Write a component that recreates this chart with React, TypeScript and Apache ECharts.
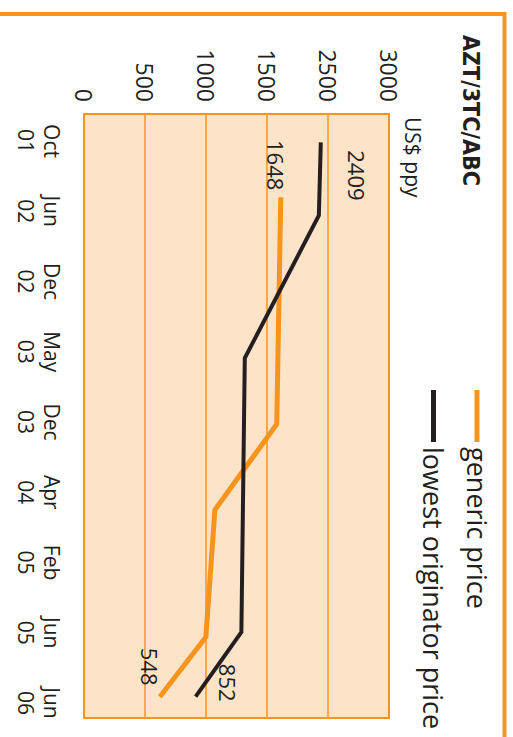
import React, { useEffect, useRef } from "react";
import * as echarts from "echarts";

// Category (time) labels along the horizontal axis of the unrotated chart
const categories = ["Oct\n01", "Jun\n02", "Dec\n02", "May\n03", "Dec\n03", "Apr\n04", "Feb\n05", "Jun\n05", "Jun\n06"];
// Value-axis tick labels as printed in the source
const tickLabels = ["0", "500", "1000", "1500", "2500", "3000"];

// Generic price: positions along the time axis (category index units) and values
const genericPos = [0.8, 4.03, 5.25, 7.06, 7.91];
const genericPrice = [1613, 1580, 1073, 999, 622];
const genericLabels = ["1648", "", "", "", "548"];

// Lowest originator price
const originatorPos = [0.02, 1.06, 3.09, 6.99, 7.91];
const originatorPrice = [1941, 1925, 1318, 1290, 915];
const originatorLabels = ["2409", "", "", "", "852"];

const ORANGE = "#F7941D";
const BLACK = "#231F20";
const PEACH = "#FDE3C8";
const FONT = "Open Sans";

const genericOffsets: Record<number, [number, number]> = { 0: [-32, 5], 4: [-30, 10] };
const originatorOffsets: Record<number, [number, number]> = { 0: [33, -36], 4: [-14, -32] };

function buildData(pos: number[], vals: number[], labels: string[], offsets: Record<number, [number, number]>) {
  return pos.map((p, i) => {
    const item: any = { value: [p, vals[i]] };
    if (labels[i]) {
      item.label = {
        show: true,
        formatter: labels[i],
        position: "inside",
        align: "center",
        verticalAlign: "middle",
        offset: offsets[i],
        color: BLACK,
        fontFamily: FONT,
        fontSize: 22,
      };
    }
    return item;
  });
}

export default function App() {
  const ref = useRef<HTMLDivElement>(null);
  useEffect(() => {
    if (!ref.current) return;
    const chart = echarts.init(ref.current, undefined, { renderer: "svg", width: 737, height: 513 });
    chart.setOption({
      animation: false,
      backgroundColor: "#ffffff",
      grid: {
        left: 114,
        right: 19,
        top: 124,
        bottom: 84,
        show: true,
        backgroundColor: PEACH,
        borderColor: ORANGE,
        borderWidth: 2,
      },
      legend: {
        orient: "vertical",
        left: 390,
        top: 20,
        padding: 0,
        itemWidth: 52,
        itemHeight: 5,
        itemGap: 11.5,
        itemStyle: { borderWidth: 0 },
        icon: "rect",
        textStyle: { fontFamily: FONT, fontSize: 27, color: BLACK, lineHeight: 32 },
        data: ["generic price", "lowest originator price"],
      },
      xAxis: {
        type: "value",
        min: -0.384,
        max: 8.213,
        axisLine: { show: false },
        axisTick: { show: false },
        splitLine: { show: false },
        axisLabel: {
          customValues: categories.map((_, i) => i),
          formatter: (v: number) => categories[Math.round(v)] ?? "",
          fontFamily: FONT,
          fontSize: 21,
          lineHeight: 26,
          margin: 19,
          color: BLACK,
        },
      },
      yAxis: {
        type: "value",
        min: 0,
        max: 2500,
        interval: 500,
        axisLine: { show: false },
        axisTick: { show: false },
        splitLine: { show: true, lineStyle: { color: ORANGE, width: 1.5 } },
        axisLabel: {
          formatter: (v: number) => tickLabels[Math.round(v / 500)] ?? "",
          fontFamily: FONT,
          fontSize: 23,
          margin: 12,
          color: BLACK,
        },
      },
      graphic: [
        {
          type: "polyline",
          shape: { points: [[14, 513], [14, 8.5], [737, 8.5]] },
          style: { stroke: ORANGE, lineWidth: 4, fill: "none" },
          silent: true,
        },
        {
          type: "text",
          x: 35,
          y: 42,
          style: {
            text: "AZT/3TC/ABC",
            fontFamily: "'DejaVu Sans Condensed', Roboto, 'Liberation Sans', sans-serif",
            fontWeight: "bold",
            fontSize: 23,
            fill: BLACK,
            verticalAlign: "middle",
            align: "left",
          },
        },
        {
          type: "text",
          x: 117,
          y: 100,
          style: {
            text: "US$ ppy",
            fontFamily: FONT,
            fontSize: 21,
            fill: BLACK,
            verticalAlign: "middle",
            align: "left",
          },
        },
      ],
      series: [
        {
          name: "generic price",
          type: "line",
          color: ORANGE,
          symbol: "circle",
          symbolSize: 0.01,
          showSymbol: true,
          lineStyle: { width: 5, color: ORANGE, join: "miter" },
          itemStyle: { color: ORANGE },
          data: buildData(genericPos, genericPrice, genericLabels, genericOffsets),
        },
        {
          name: "lowest originator price",
          type: "line",
          color: BLACK,
          symbol: "circle",
          symbolSize: 0.01,
          showSymbol: true,
          lineStyle: { width: 4, color: BLACK, join: "miter" },
          itemStyle: { color: BLACK },
          data: buildData(originatorPos, originatorPrice, originatorLabels, originatorOffsets),
        },
      ],
    });
    return () => chart.dispose();
  }, []);

  return (
    <div style={{ position: "fixed", left: 0, top: 0, width: 513, height: 737, overflow: "hidden", background: "#fff" }}>
      <div
        ref={ref}
        style={{
          position: "absolute",
          left: 0,
          top: 0,
          width: 737,
          height: 513,
          transformOrigin: "0 0",
          transform: "translate(513px, 0) rotate(90deg)",
        }}
      />
    </div>
  );
}
